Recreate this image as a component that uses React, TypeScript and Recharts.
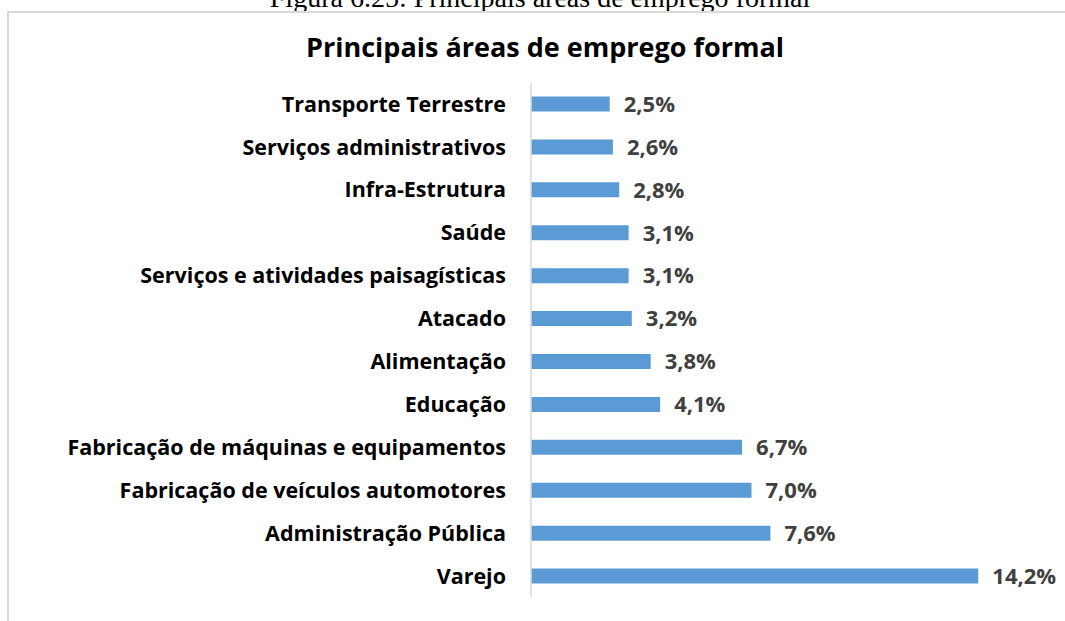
import { BarChart, Bar, XAxis, YAxis, LabelList } from 'recharts';

// Categories, top to bottom as they appear in the chart
const categories = [
  'Transporte Terrestre',
  'Serviços administrativos',
  'Infra-Estrutura',
  'Saúde',
  'Serviços e atividades paisagísticas',
  'Atacado',
  'Alimentação',
  'Educação',
  'Fabricação de máquinas e equipamentos',
  'Fabricação de veículos automotores',
  'Administração Pública',
  'Varejo',
];

// Share of formal employment (%)
const shares = [2.5, 2.6, 2.8, 3.1, 3.1, 3.2, 3.8, 4.1, 6.7, 7.0, 7.6, 14.2];

const data = categories.map((name, i) => ({ name, value: shares[i] }));

const FONT = '"Open Sans", "Noto Sans", sans-serif';

export default function App() {
  return (
    <div
      style={{
        position: 'fixed',
        top: 0,
        left: 0,
        width: 1065,
        height: 621,
        overflow: 'hidden',
        background: '#fff',
      }}
    >
      {/* caption of the figure, cut off at the top of the page */}
      <div
        style={{
          position: 'absolute',
          top: -18,
          left: 0,
          width: 1080,
          textAlign: 'center',
          fontFamily: '"Liberation Serif", "DejaVu Serif", serif',
          fontSize: 28,
          color: '#000',
          whiteSpace: 'nowrap',
        }}
      >
        Figura 6.25: Principais áreas de emprego formal
      </div>

      <div
        style={{
          position: 'absolute',
          left: 7,
          top: 11,
          width: 1080,
          height: 640,
          border: '2px solid #d9d9d9',
          fontFamily: FONT,
        }}
      >
        <div
          style={{
            position: 'absolute',
            top: 15,
            left: 0,
            width: 1072,
            textAlign: 'center',
            fontSize: 27,
            fontWeight: 700,
            color: '#000',
          }}
        >
          Principais áreas de emprego formal
        </div>

        <BarChart
          width={1060}
          height={600}
          data={data}
          layout="vertical"
          margin={{ top: 69.5, right: 34, bottom: 15.5, left: 0 }}
          barCategoryGap={0}
        >
          <XAxis type="number" domain={[0, 16]} hide />
          <YAxis
            type="category"
            dataKey="name"
            width={522}
            tickLine={false}
            tickSize={0}
            tickMargin={25}
            axisLine={{ stroke: '#d9d9d9', strokeWidth: 1.5 }}
            interval={0}
            tick={{ fill: '#000', fontSize: 21.5, fontWeight: 700, fontFamily: FONT }}
          />
          <Bar dataKey="value" fill="#5b9bd5" barSize={15} isAnimationActive={false}>
            <LabelList
              dataKey="value"
              position="right"
              offset={14}
              formatter={(v: number) => `${v.toFixed(1).replace('.', ',')}%`}
              style={{ fill: '#404040', fontSize: 22, fontWeight: 700, fontFamily: FONT }}
            />
          </Bar>
        </BarChart>
      </div>
    </div>
  );
}
